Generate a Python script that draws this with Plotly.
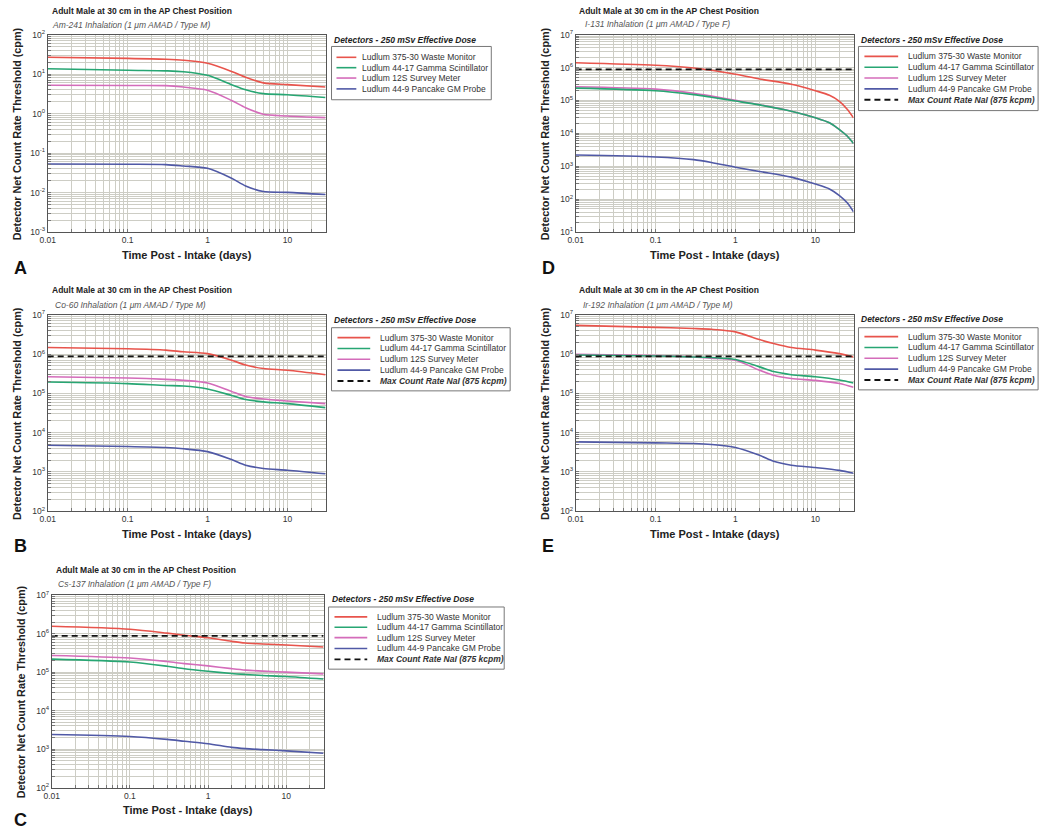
import math
import plotly.graph_objects as go

W, H = 1050, 837

# ---- data ----
detector_names = ["Ludlum 375-30 Waste Monitor", "Ludlum 44-17 Gamma Scintillator",
                  "Ludlum 12S Survey Meter", "Ludlum 44-9 Pancake GM Probe"]
max_rate_label = "Max Count Rate NaI (875 kcpm)"
max_rate_cpm = 875000
x_ticks = [0.01, 0.1, 1, 10]
x_ticktext = ["0.01", "0.1", "1", "10"]

# A - Am-241
t_am = [0.01, 0.1, 0.3, 0.5, 1, 2, 3, 5, 10, 30]
am_waste = [26.6, 25.0, 23.7, 22.4, 18.8, 11.7, 8.3, 6.0, 5.4, 4.7]
am_gamma = [13.6, 12.5, 12.1, 11.5, 9.3, 5.4, 4.0, 3.2, 3.0, 2.56]
am_survey = [5.2, 5.15, 5.1, 4.7, 3.9, 2.15, 1.41, 0.96, 0.87, 0.79]
am_pancake = [0.053, 0.052, 0.051, 0.047, 0.041, 0.023, 0.0147, 0.0106, 0.0101, 0.0089]

# D - I-131
t_i = [0.01, 0.1, 0.3, 0.5, 1, 2, 5, 10, 15, 20, 25, 30]
i_waste = [1.40e6, 1.17e6, 9.7e5, 8.3e5, 6.26e5, 4.5e5, 3.1e5, 1.97e5, 1.43e5, 9.4e4, 5.4e4, 2.95e4]
i_gamma = [2.37e5, 1.97e5, 1.5e5, 1.25e5, 9.6e4, 7.3e4, 4.7e4, 2.97e4, 2.1e4, 1.3e4, 8.3e3, 4.9e3]
i_survey = [2.6e5, 2.2e5, 1.65e5, 1.35e5, 1.0e5, 7.4e4, 4.7e4, 2.97e4, 2.1e4, 1.3e4, 8.3e3, 4.9e3]
i_pancake = [2180, 1900, 1580, 1300, 930, 690, 465, 286, 203, 128, 77, 41]

# B - Co-60
t_co = [0.01, 0.1, 0.3, 0.5, 1, 2, 3, 5, 10, 30]
co_waste = [1.48e6, 1.37e6, 1.27e6, 1.15e6, 1.03e6, 7.0e5, 5.3e5, 4.3e5, 3.9e5, 3.0e5]
co_gamma = [1.95e5, 1.78e5, 1.6e5, 1.55e5, 1.3e5, 8.9e4, 7.0e4, 6.1e4, 5.5e4, 4.35e4]
co_survey = [2.66e5, 2.47e5, 2.28e5, 2.15e5, 1.85e5, 1.12e5, 8.4e4, 7.2e4, 6.4e4, 5.5e4]
co_pancake = [4800, 4470, 4200, 3900, 3300, 2070, 1490, 1230, 1110, 900]

# E - Ir-192
t_ir = [0.01, 0.1, 0.3, 0.5, 1, 2, 3, 5, 10, 20, 30]
ir_waste = [5.4e6, 4.8e6, 4.5e6, 4.3e6, 3.7e6, 2.35e6, 1.87e6, 1.48e6, 1.27e6, 1.03e6, 8.5e5]
ir_gamma = [9.5e5, 9.0e5, 8.5e5, 8.2e5, 7.3e5, 4.75e5, 3.6e5, 3.0e5, 2.66e5, 2.2e5, 1.85e5]
ir_survey = [9.9e5, 9.2e5, 8.5e5, 7.9e5, 7.0e5, 3.9e5, 2.9e5, 2.4e5, 2.15e5, 1.8e5, 1.44e5]
ir_pancake = [5850, 5500, 5300, 5000, 4200, 2650, 1870, 1490, 1300, 1100, 930]

# C - Cs-137
t_cs = [0.01, 0.1, 0.3, 0.5, 1, 2, 3, 5, 10, 30]
cs_waste = [1.55e6, 1.3e6, 1.03e6, 9.1e5, 7.8e5, 6.3e5, 5.7e5, 5.4e5, 5.07e5, 4.5e5]
cs_gamma = [2.18e5, 1.83e5, 1.42e5, 1.22e5, 1.05e5, 9.2e4, 8.7e4, 8.2e4, 7.7e4, 6.6e4]
cs_survey = [2.71e5, 2.32e5, 1.88e5, 1.66e5, 1.45e5, 1.23e5, 1.13e5, 1.06e5, 1.0e5, 9.0e4]
cs_pancake = [2400, 2130, 1790, 1600, 1380, 1110, 1030, 970, 900, 780]

colors = ["#e8544c", "#27a673", "#d46cba", "#5059a6"]
grid_col = "#cdcdc5"
FONT = "Liberation Sans, Arial, sans-serif"
TITLE = "Adult Male at 30 cm in the AP Chest Position"


def fx(p):
    return p / W


def fy(p):
    return 1 - p / H


# positions in pixels of the 1050x837 page
panels = [
    dict(letter="A", sub="Am-241 Inhalation (1 \u03bcm AMAD / Type M)", t=t_am,
         ys=[am_waste, am_gamma, am_survey, am_pancake], yr=(-3, 2), maxline=False,
         box=(40, 320, 29, 229), title=(42, 5), subxy=(42, 19), lbox=(326, 41, 487, 95),
         rows=[52, 62.5, 73, 84], samp=(331, 351), tx=355, ltitle=(326, 34), letter_xy=(4, 265)),
    dict(letter="D", sub="I-131 Inhalation (1 \u03bcm AMAD / Type F)", t=t_i,
         ys=[i_waste, i_gamma, i_survey, i_pancake], yr=(1, 7), maxline=True,
         box=(572, 852, 29, 229), title=(573, 5), subxy=(579, 18), lbox=(857, 41, 1038, 106),
         rows=[51, 62, 73, 84, 95], samp=(863, 897), tx=905, ltitle=(858, 34), letter_xy=(536, 265)),
    dict(letter="B", sub="Co-60 Inhalation (1 \u03bcm AMAD / Type M)", t=t_co,
         ys=[co_waste, co_gamma, co_survey, co_pancake], yr=(2, 7), maxline=True,
         box=(40, 320, 313, 512), title=(42, 288), subxy=(45, 303), lbox=(326, 326, 506, 390),
         rows=[336, 347, 358, 369, 380], samp=(332, 365), tx=373, ltitle=(326, 318), letter_xy=(4, 547)),
    dict(letter="E", sub="Ir-192 Inhalation (1 \u03bcm AMAD / Type M)", t=t_ir,
         ys=[ir_waste, ir_gamma, ir_survey, ir_pancake], yr=(2, 7), maxline=True,
         box=(572, 852, 313, 512), title=(573, 288), subxy=(577, 303), lbox=(857, 326, 1038, 389),
         rows=[335, 346, 357, 368, 379], samp=(863, 897), tx=905, ltitle=(858, 317), letter_xy=(536, 547)),
    dict(letter="C", sub="Cs-137 Inhalation (1 \u03bcm AMAD / Type F)", t=t_cs,
         ys=[cs_waste, cs_gamma, cs_survey, cs_pancake], yr=(2, 7), maxline=True,
         box=(44, 318, 597, 792), title=(46, 572), subxy=(48, 586), lbox=(323, 609, 500, 672),
         rows=[619, 629.5, 640, 651, 662], samp=(329, 362), tx=370, ltitle=(324, 601), letter_xy=(4, 825)),
]

fig = go.Figure()
shapes = []
annotations = []

for i, p in enumerate(panels, start=1):
    xa = "x" if i == 1 else "x%d" % i
    ya = "y" if i == 1 else "y%d" % i
    x0, x1, y0, y1 = p["box"]

    # curves
    for k in (3, 2, 1, 0):
        fig.add_trace(go.Scatter(x=p["t"], y=p["ys"][k], mode="lines", xaxis=xa, yaxis=ya,
                                 line=dict(color=colors[k], width=1.6, shape="spline", smoothing=0.8),
                                 showlegend=False, hoverinfo="x+y"))
    if p["maxline"]:
        fig.add_trace(go.Scatter(x=[x_ticks[0], 30], y=[max_rate_cpm, max_rate_cpm], mode="lines",
                                 xaxis=xa, yaxis=ya, showlegend=False,
                                 line=dict(color="#111", width=1.8, dash="6px,4px")))

    # grid at every 1..9 x 10^n
    lo, hi = p["yr"]
    yvals, ytext = [], []
    for e in range(lo, hi + 1):
        for m in range(1, 10):
            if e == hi and m > 1:
                break
            yvals.append(m * 10.0 ** e)
            ytext.append("10<sup>%d</sup>" % e if m == 1 else "")
    xvals, xtext = [], []
    for e in range(-2, 2):
        for m in range(1, 10):
            v = m * 10.0 ** e
            if v > 30:
                break
            xvals.append(v)
            xtext.append(x_ticktext[x_ticks.index(v)] if v in x_ticks else "")

    axis_common = dict(type="log", showline=True, mirror=True, linecolor="#555", linewidth=1,
                       showgrid=True, gridcolor=grid_col, gridwidth=1, zeroline=False,
                       ticks="inside", ticklen=3, tickcolor="#777",
                       tickfont=dict(family=FONT, size=8.5, color="#333"))
    fig.layout["xaxis" if i == 1 else "xaxis%d" % i] = dict(
        axis_common, domain=[fx(x0), fx(x1)], anchor=ya,
        range=[math.log10(0.01), math.log10(30)], tickmode="array", tickvals=xvals, ticktext=xtext)
    fig.layout["yaxis" if i == 1 else "yaxis%d" % i] = dict(
        axis_common, domain=[fy(y1), fy(y0)], anchor=xa,
        range=[lo, hi], tickmode="array", tickvals=yvals, ticktext=ytext)

    # texts
    annotations.append(dict(text="<b>" + TITLE + "</b>", x=fx(p["title"][0]), y=fy(p["title"][1]),
                            xanchor="left", yanchor="middle", font=dict(size=8.5, color="#222")))
    annotations.append(dict(text="<i>" + p["sub"] + "</i>", x=fx(p["subxy"][0]), y=fy(p["subxy"][1]),
                            xanchor="left", yanchor="middle", font=dict(size=8.5, color="#555")))
    annotations.append(dict(text="<b>Detector Net Count Rate Threshold (cpm)</b>",
                            x=fx(x0 - 31), y=fy((y0 + y1) / 2), textangle=-90,
                            xanchor="center", yanchor="middle", font=dict(size=10.8, color="#222")))
    annotations.append(dict(text="<b>Time Post - Intake (days)</b>", x=fx((x0 + x1) / 2),
                            y=fy(y1 + 23), xanchor="center", yanchor="middle",
                            font=dict(size=11, color="#222")))
    annotations.append(dict(text="<b>" + p["letter"] + "</b>", x=fx(p["letter_xy"][0]),
                            y=fy(p["letter_xy"][1]), xanchor="left", yanchor="middle",
                            font=dict(size=18, color="#111")))

    # legend drawn by hand
    lx0, ly0, lx1, ly1 = p["lbox"]
    annotations.append(dict(text="<b><i>Detectors - 250 mSv Effective Dose</i></b>",
                            x=fx(p["ltitle"][0]), y=fy(p["ltitle"][1]), xanchor="left",
                            yanchor="middle", font=dict(size=8.5, color="#222")))
    shapes.append(dict(type="rect", xref="paper", yref="paper", x0=fx(lx0), x1=fx(lx1),
                       y0=fy(ly1), y1=fy(ly0), line=dict(color="#777", width=1)))
    labels = detector_names + ([max_rate_label] if p["maxline"] else [])
    for k, lab in enumerate(labels):
        ry = fy(p["rows"][k])
        if k < 4:
            line = dict(color=colors[k], width=1.6)
            txt = lab
        else:
            line = dict(color="#111", width=1.8, dash="6px,4px")
            txt = "<b><i>" + lab + "</i></b>"
        shapes.append(dict(type="line", xref="paper", yref="paper", x0=fx(p["samp"][0]),
                           x1=fx(p["samp"][1]), y0=ry, y1=ry, line=line))
        annotations.append(dict(text=txt, x=fx(p["tx"]), y=ry, xanchor="left", yanchor="middle",
                                font=dict(size=8.5, color="#333")))

for a in annotations:
    a.update(xref="paper", yref="paper", showarrow=False)

fig.update_layout(width=W, height=H, margin=dict(l=0, r=0, t=0, b=0),
                  paper_bgcolor="white", plot_bgcolor="white",
                  font=dict(family=FONT, color="#333"),
                  shapes=shapes, annotations=annotations, showlegend=False)

fig.write_html("out.html", config={"displayModeBar": False},
               post_script="document.body.style.margin='0';document.body.style.overflow='hidden';")
